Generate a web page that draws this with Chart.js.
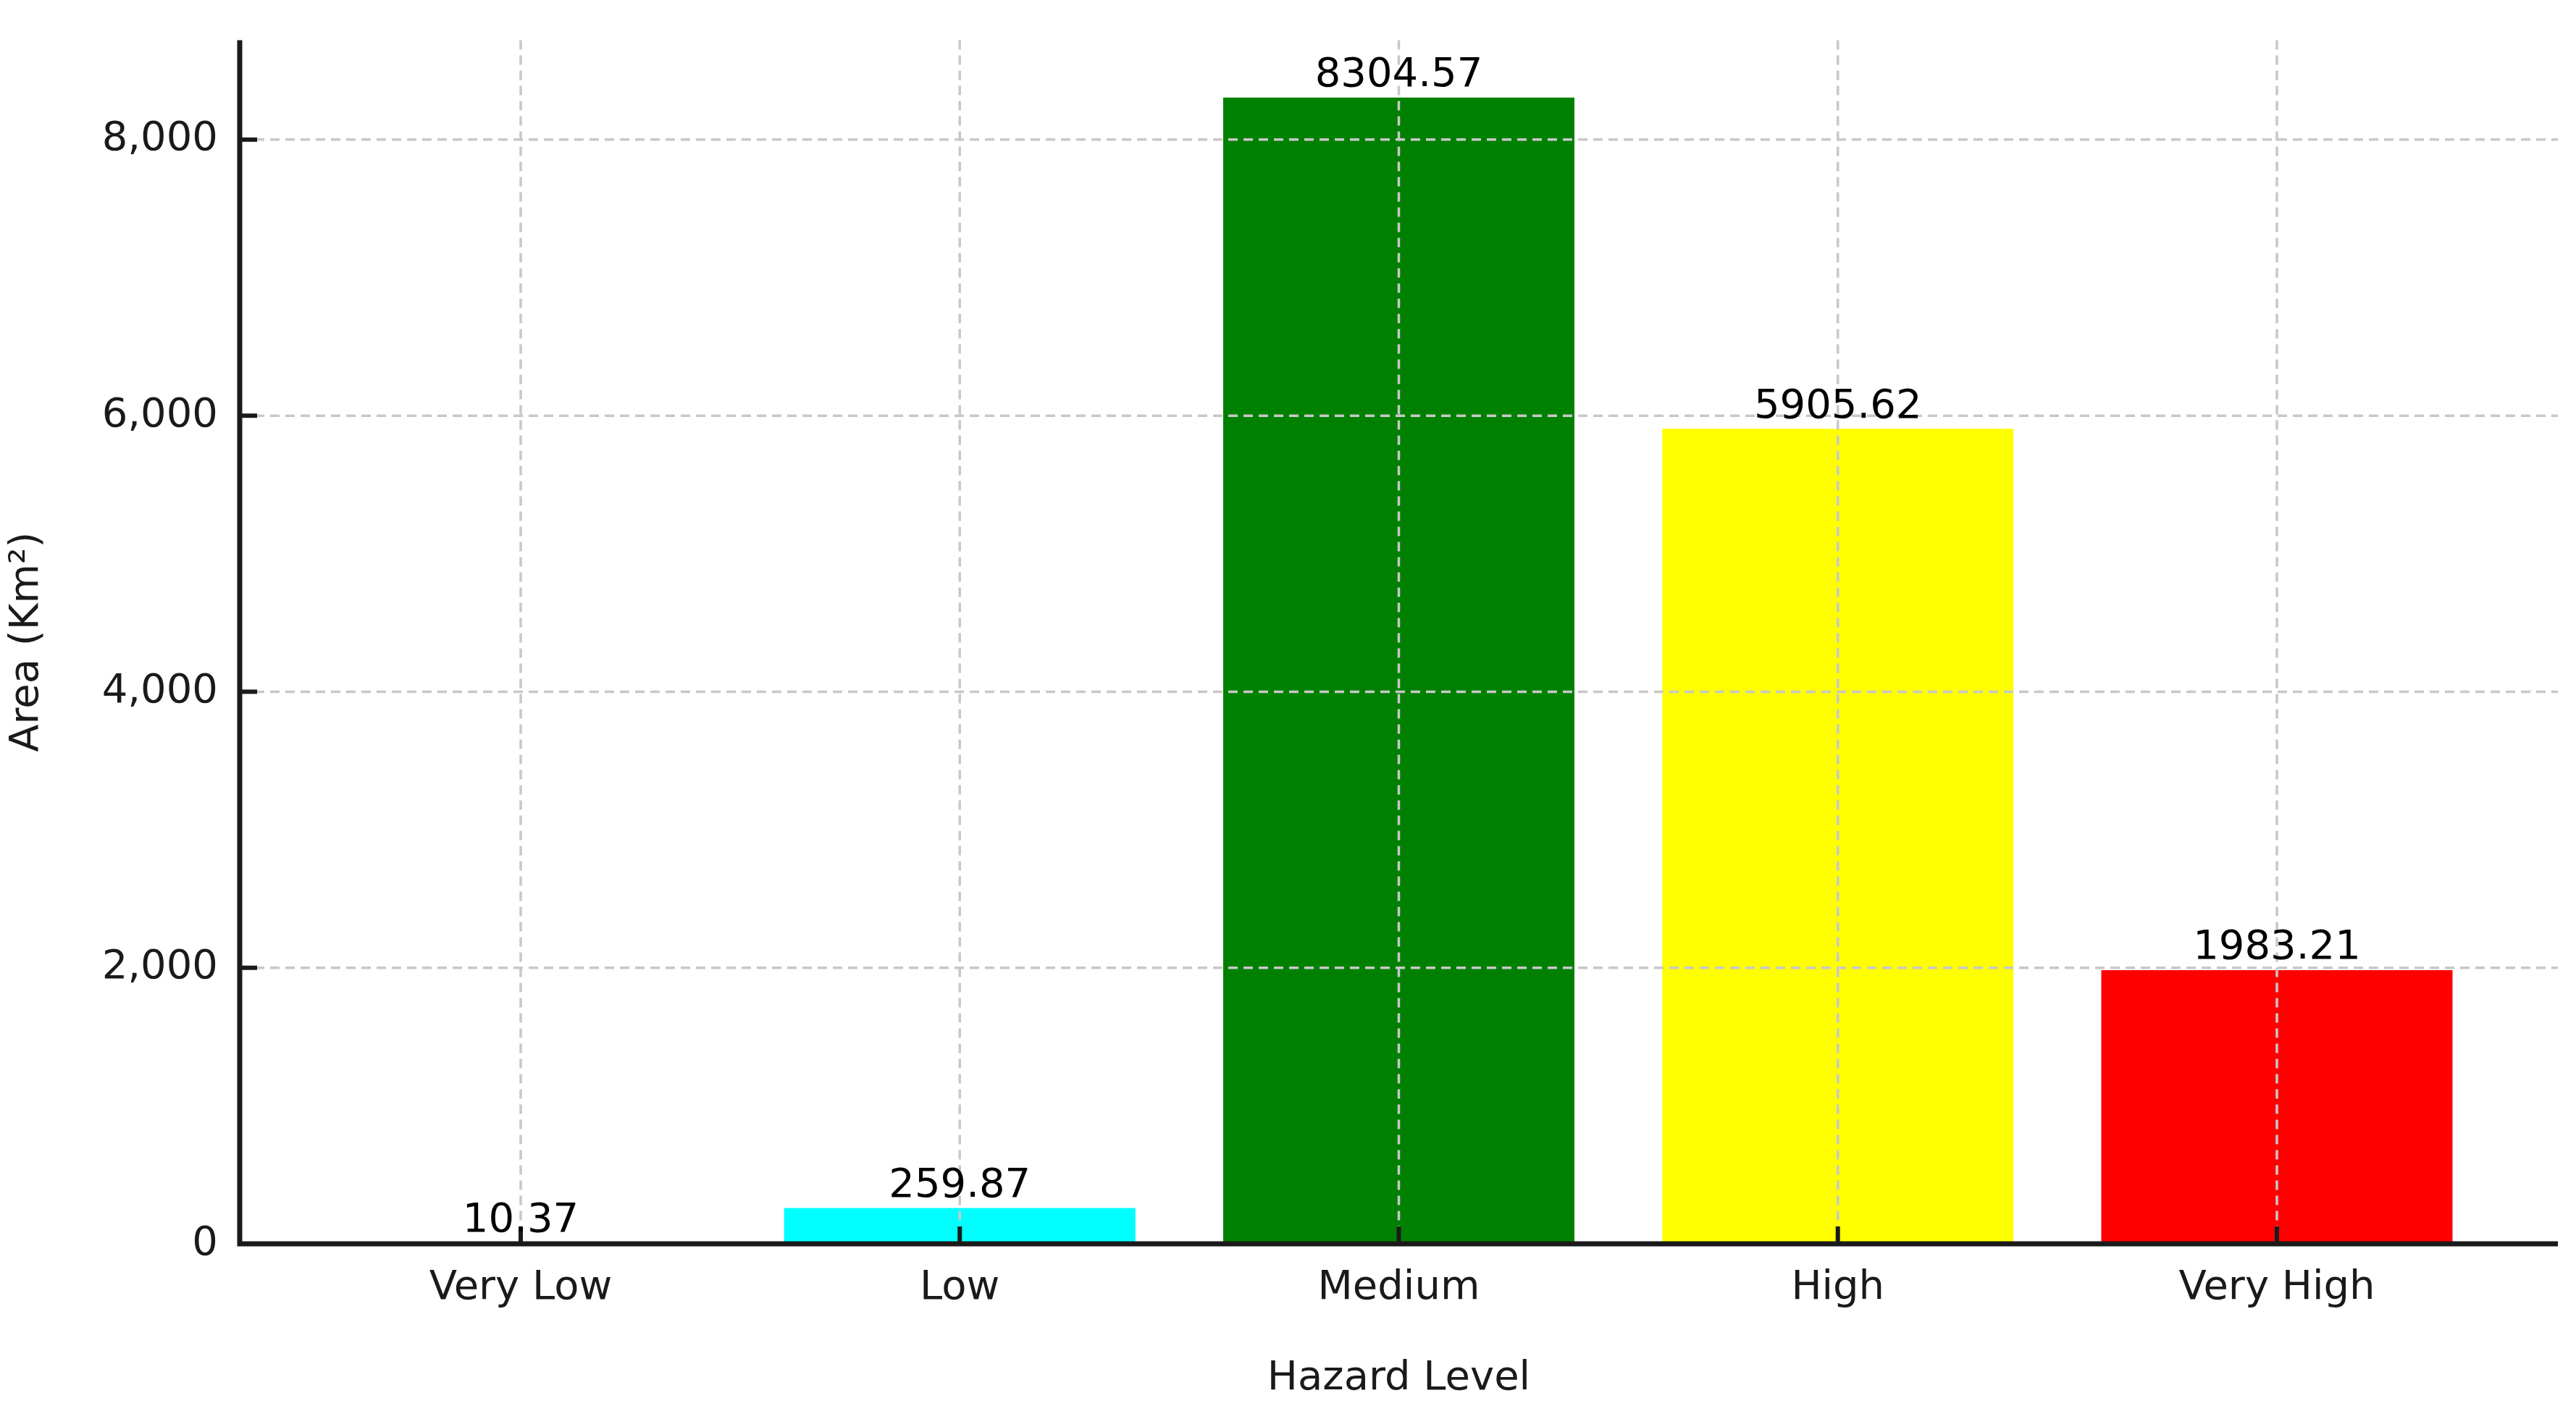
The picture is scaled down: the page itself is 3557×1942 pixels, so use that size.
<!DOCTYPE html>
<html><head><meta charset="utf-8">
<script src="https://cdn.jsdelivr.net/npm/chart.js@4"></script>
<style>html,body{margin:0;padding:0;background:#fff}#w{width:3557px;height:1942px}</style>
</head><body><div id="w"><canvas id="c"></canvas></div>
<script>
const categories = ["Very Low","Low","Medium","High","Very High"];
const areaValues = [10.37, 259.87, 8304.57, 5905.62, 1983.21];
const barColors = ["#0000ff","#00ffff","#008000","#ffff00","#ff0000"];
const yTicks = [0,2000,4000,6000,8000];
const FONT = "'DejaVu Sans', sans-serif";
const FS = 56;

const overlay = {
  id:'overlay',
  afterDatasetsDraw(chart){
    const {ctx, chartArea:a, scales:{x,y}} = chart;
    ctx.save();
    ctx.strokeStyle='#c8c8c8'; ctx.lineWidth=3.5; ctx.setLineDash([13,8]);
    categories.forEach((c,i)=>{const px=x.getPixelForValue(i);ctx.beginPath();ctx.moveTo(px,a.top);ctx.lineTo(px,a.bottom);ctx.stroke();});
    yTicks.forEach(v=>{const py=y.getPixelForValue(v);ctx.beginPath();ctx.moveTo(a.left,py);ctx.lineTo(a.right,py);ctx.stroke();});
    ctx.setLineDash([]);
    ctx.strokeStyle='#1a1a1a'; ctx.lineWidth=7;
    ctx.beginPath();ctx.moveTo(a.left,a.top);ctx.lineTo(a.left,a.bottom);ctx.lineTo(a.right,a.bottom);ctx.stroke();
    ctx.lineWidth=6;
    categories.forEach((c,i)=>{const px=x.getPixelForValue(i);ctx.beginPath();ctx.moveTo(px,a.bottom);ctx.lineTo(px,a.bottom-24);ctx.stroke();});
    yTicks.forEach(v=>{const py=y.getPixelForValue(v);ctx.beginPath();ctx.moveTo(a.left,py);ctx.lineTo(a.left+24,py);ctx.stroke();});
    ctx.fillStyle='#000'; ctx.font=FS+'px '+FONT; ctx.textAlign='center'; ctx.textBaseline='bottom';
    areaValues.forEach((v,i)=>{ctx.fillText(v.toFixed(2), x.getPixelForValue(i), y.getPixelForValue(v)-2);});
    ctx.restore();
  }
};

new Chart(document.getElementById('c'),{
  type:'bar',
  data:{datasets:[{data:areaValues.map((v,i)=>({x:i,y:v})),backgroundColor:barColors,barPercentage:0.8,categoryPercentage:1}]},
  options:{
    responsive:true, maintainAspectRatio:false, animation:false,
    layout:{padding:{top:45,right:25,left:0,bottom:0}},
    plugins:{legend:{display:false},tooltip:{enabled:false}},
    scales:{
      x:{type:'linear',min:-0.64,max:4.64,offset:false,
        afterBuildTicks(s){s.ticks=categories.map((c,i)=>({value:i}));},
        afterFit(s){s.height=1942-1718;},
        grid:{display:false},border:{display:false},
        ticks:{callback:(v)=>categories[v],font:{family:FONT,size:FS},color:'#1a1a1a',padding:20,maxRotation:0,autoSkip:false},
        title:{display:true,text:'Hazard Level',font:{family:FONT,size:FS},color:'#1a1a1a',padding:{top:16}}},
      y:{min:0,max:8720,
        afterBuildTicks(s){s.ticks=yTicks.map(v=>({value:v}));},
        afterFit(s){s.width=331;},
        grid:{display:false},border:{display:false},
        ticks:{font:{family:FONT,size:FS},color:'#1a1a1a',padding:22},
        title:{display:true,text:'Area (Km²)',font:{family:FONT,size:FS},color:'#1a1a1a',padding:{bottom:10}}}
    }
  },
  plugins:[overlay]
});
</script></body></html>
